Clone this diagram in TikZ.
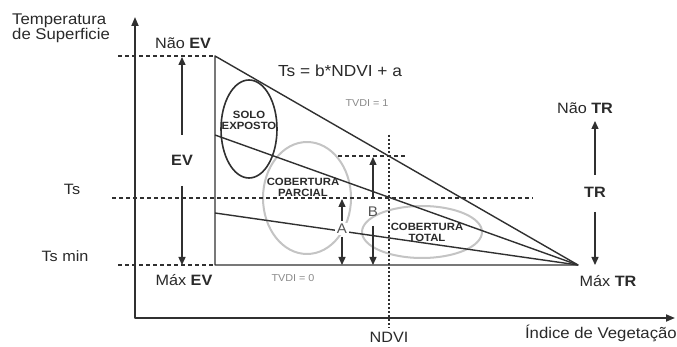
\documentclass[tikz,border=0pt]{standalone}
\usepackage{fontspec}
\setmainfont{Liberation Sans}[FakeStretch=1.08]
\usetikzlibrary{arrows.meta,shapes.geometric}
\definecolor{linec}{HTML}{303030}
\definecolor{txtc}{HTML}{2A2A2A}
\definecolor{lightc}{HTML}{C4C4C4}
\definecolor{tvc}{HTML}{8A8A8A}
\begin{document}
\begin{tikzpicture}[x=1pt,y=-1pt,line join=round,
  ln/.style={draw=linec,line width=1.4pt},
  axisln/.style={draw=linec,line width=1.7pt,{Triangle[length=9pt,width=7pt]}-{Triangle[length=9pt,width=7pt]}},
  dsh/.style={draw=linec,line width=1.2pt,dash pattern=on 4pt off 3pt},
  dotln/.style={draw=linec,line width=1.6pt,dash pattern=on 2pt off 2pt},
  arr/.style={draw=linec,line width=1.4pt,-{Triangle[length=8pt,width=7pt]}},
  lbl/.style={text=txtc,font=\fontsize{15}{17}\selectfont,inner sep=0pt},
  big/.style={text=txtc,font=\fontsize{16}{16}\selectfont,inner sep=0pt},
  sm/.style={text=txtc,font=\fontsize{10.5}{11}\selectfont\bfseries,inner sep=0pt,align=center},
  tv/.style={text=tvc,font=\fontsize{10}{11}\selectfont,inner sep=0pt},
  ab/.style={text=txtc!80,font=\fontsize{14}{15}\selectfont,inner sep=0pt},
  darkell/.style={ellipse,draw=linec,line width=1.6pt,inner sep=0pt},
  lightell/.style={ellipse,draw=lightc,line width=2pt,inner sep=0pt}]
\useasboundingbox (0,0) rectangle (677,347);
\fill[white] (0,0) rectangle (677,347);
% key points
\coordinate (ytop) at (135,17);
\coordinate (O) at (135,318);
\coordinate (xend) at (675,318);
\coordinate (NEV) at (215,56);
\coordinate (MEV) at (215,265);
\coordinate (apex) at (578,265);
\coordinate (mid) at (215,135);
\coordinate (low) at (215,213);
\coordinate (dtl) at (118,56);
\coordinate (dbl) at (118,265);
\coordinate (tsl) at (112,198);
\coordinate (tsr) at (533,198);
\coordinate (sdl) at (338,156);
\coordinate (sdr) at (407,156);
\coordinate (ndt) at (389,135);
\coordinate (ndb) at (389,328);
% ellipses
\node[lightell,minimum width=88pt,minimum height=112pt] (parc) at (307,198) {};
\node[lightell,minimum width=120pt,minimum height=52pt] (tot) at (422,232) {};
\node[darkell,minimum width=56pt,minimum height=98pt] (solo) at (249,129) {};
% axes
\draw[axisln] (ytop) -- (O) -- (xend);
% dashed guides
\draw[dsh] (dtl) -- (NEV);
\draw[dsh] (dbl) -- (MEV);
\draw[dsh] (tsl) -- (tsr);
\draw[dsh] (sdl) -- (sdr);
\draw[dotln] (ndt) -- (ndb);
% triangle and lines
\draw[ln] (NEV) -- (MEV) -- (apex) -- cycle;
\draw[ln] (mid) -- (apex);
\draw[ln] (low) -- (apex);
% ellipse texts
\node[sm] (solot) at (249,120) {SOLO\\EXPOSTO};
\node[sm] (parct) at (303,187) {COBERTURA\\PARCIAL};
\node[sm] (tott) at (427,232) {COBERTURA\\TOTAL};
% EV arrows
\node[lbl] (EV) at (182,160) {\textbf{EV}};
\coordinate (evu) at (182,135);
\coordinate (evd) at (182,186);
\draw[arr] (evu) -- (182,57);
\draw[arr] (evd) -- (182,265);
% A arrows
\node[ab,fill=white,inner sep=1.5pt] (A) at (342,229) {A};
\draw[arr] (342,221) -- (342,199);
\draw[arr] (342,237) -- (342,265);
% B arrows
\node[ab] (B) at (373,212) {B};
\draw[arr] (373,197) -- (373,157);
\draw[arr] (373,226) -- (373,265);
% TR arrows
\node[lbl] (TR) at (595,192) {\textbf{TR}};
\draw[arr] (595,175) -- (595,121);
\draw[arr] (595,212) -- (595,265);
% labels
\node[lbl] (nev) at (183,43) {Não \textbf{EV}};
\node[lbl] (mev) at (184,280) {Máx \textbf{EV}};
\node[lbl] (ntr) at (585,108) {Não \textbf{TR}};
\node[lbl] (mtr) at (608,281) {Máx \textbf{TR}};
\node[tv] (tv0) at (293,278) {TVDI = 0};
\node[tv] (tv1) at (367,103) {TVDI = 1};
\node[big] (eq) at (340,71) {Ts = b*NDVI + a};
\node[big,anchor=west,align=left,font=\fontsize{15.5}{15}\selectfont] (temp) at (12,28) {Temperatura\\de Superficie};
\node[lbl] (ts) at (72,189) {Ts};
\node[lbl] (tsmin) at (65,256) {Ts min};
\node[lbl] (ndvi) at (389,337) {NDVI};
\node[big,anchor=east,font=\fontsize{15.5}{15}\selectfont] (indice) at (677,333) {Índice de Vegetação};
\end{tikzpicture}
\end{document}
